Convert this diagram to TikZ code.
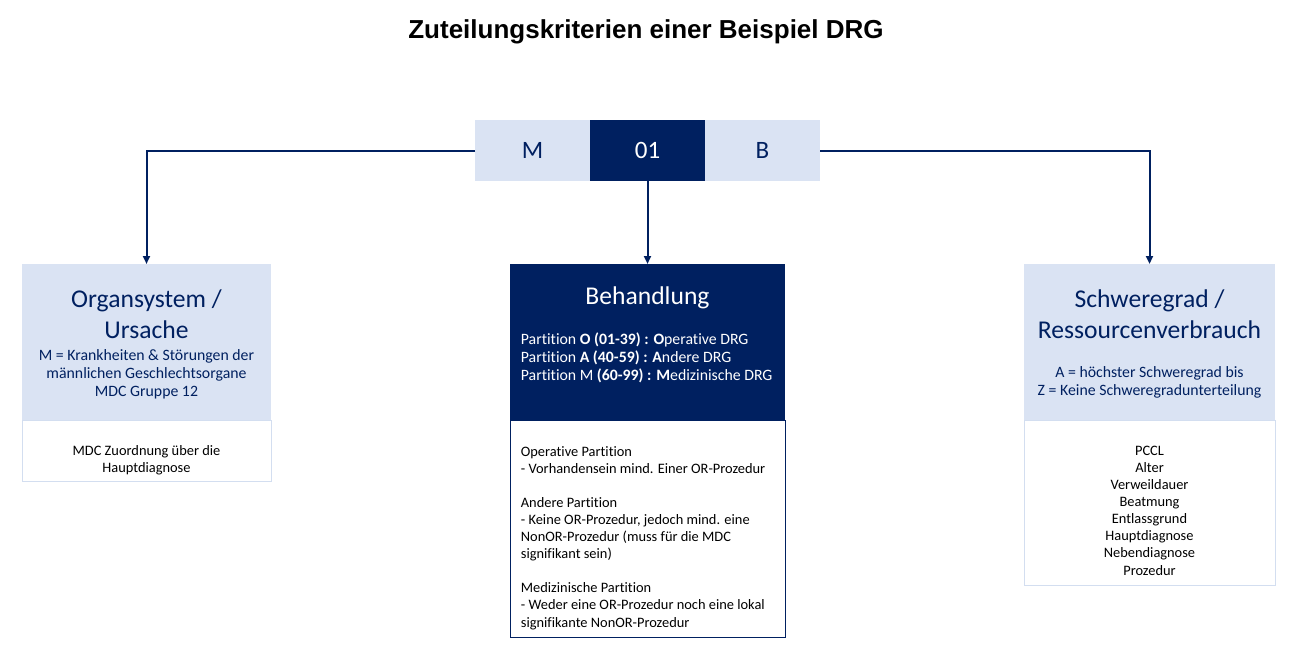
\documentclass[tikz,border=0pt]{standalone}
\usepackage{fontspec}
\setmainfont{Carlito}[Ligatures={NoCommon}]
\newfontfamily\titlefont{Liberation Sans}
\usetikzlibrary{arrows.meta}
\definecolor{navy}{HTML}{002060}
\definecolor{lightblue}{HTML}{DAE3F3}
\definecolor{paleborder}{HTML}{D3DEF0}
\begin{document}
\begin{tikzpicture}[x=1pt,y=-1pt,
  box/.style={inner sep=0pt, outer sep=0pt, anchor=north west},
  lightbox/.style={box, fill=lightblue},
  darkbox/.style={box, fill=navy},
  whitebox/.style={box, fill=white, draw=paleborder, line width=1pt},
  whitedark/.style={box, fill=white, draw=navy, line width=1pt},
  codebox/.style={box, minimum width=115pt, minimum height=61pt, font=\fontsize{25}{28}\selectfont},
  heading/.style={inner sep=0pt, align=center, anchor=base, font=\fontsize{25.6}{31}\selectfont},
  smalltext/.style={inner sep=0pt, align=center, anchor=base, font=\fontsize{15.8}{17.9}\selectfont},
  listtext/.style={inner sep=0pt, align=center, anchor=base, font=\fontsize{14.4}{17.1}\selectfont},
  conn/.style={draw=navy, line width=2pt, -{Triangle[length=8pt,width=7pt]}}
]
\useasboundingbox (0,0) rectangle (1299,648);
\fill[white] (0,0) rectangle (1299,648);

\node[inner sep=0pt, anchor=base, font=\titlefont\bfseries\fontsize{26}{30}\selectfont] (title) at (646,38.3) {Zuteilungskriterien einer Beispiel DRG};

% code boxes
\node[codebox, fill=lightblue, text=navy] (m) at (475,120) {M};
\node[codebox, fill=navy, text=white] (z01) at (590,120) {01};
\node[codebox, fill=lightblue, text=navy] (b) at (705,120) {B};

% main boxes
\node[lightbox, minimum width=249pt, minimum height=156pt] (org) at (22,264) {};
\node[whitebox, minimum width=249pt, minimum height=61pt] (orgw) at (22,420) {};
\node[darkbox, minimum width=275pt, minimum height=156pt] (beh) at (510,264) {};
\node[whitedark, minimum width=275pt, minimum height=217pt] (behw) at (510,420) {};
\node[lightbox, minimum width=251pt, minimum height=156pt] (sev) at (1024,264) {};
\node[whitebox, minimum width=251pt, minimum height=165pt] (sevw) at (1024,420) {};

% connectors
\draw[conn] (m.west) -| (org.north);
\draw[conn] (b.east) -| (sev.north);
\draw[conn] (z01.south) -- (beh.north);

% left texts (anchor = baseline of the last line)
\node[heading, text=navy] (orgt) at (146.5,338) {Organsystem /\\Ursache};
\node[smalltext, text=navy] (orgd) at (146.5,396) {M = Krankheiten \& Störungen der\\männlichen Geschlechtsorgane\\MDC Gruppe 12};
\node[listtext] (orgl) at (146.5,472.5) {MDC Zuordnung über die\\Hauptdiagnose};

% center texts
\node[heading, text=white] (beht) at (647.5,304.5) {Behandlung};
\node[smalltext, align=left, anchor=base west, text=white] (behd) at (520.7,380) {Partition \textbf{O (01-39) : O}perative DRG\\Partition \textbf{A (40-59) : A}ndere DRG\\Partition M \textbf{(60-99) : M}edizinische DRG};
\node[listtext, align=left, anchor=base west] (behl) at (520.7,627) {Operative Partition\\- Vorhandensein mind. Einer OR-Prozedur\\[17.1pt]Andere Partition\\- Keine OR-Prozedur, jedoch mind. eine\\NonOR-Prozedur (muss für die MDC\\signifikant sein)\\[17.1pt]Medizinische Partition\\- Weder eine OR-Prozedur noch eine lokal\\signifikante NonOR-Prozedur};

% right texts
\node[heading, text=navy] (sevt) at (1149.5,338) {Schweregrad /\\Ressourcenverbrauch};
\node[smalltext, text=navy] (sevd) at (1149.5,395.7) {A = höchster Schweregrad bis\\Z = Keine Schweregradunterteilung};
\node[listtext] (sevl) at (1149.5,575) {PCCL\\Alter\\Verweildauer\\Beatmung\\Entlassgrund\\Hauptdiagnose\\Nebendiagnose\\Prozedur};
\end{tikzpicture}
\end{document}
